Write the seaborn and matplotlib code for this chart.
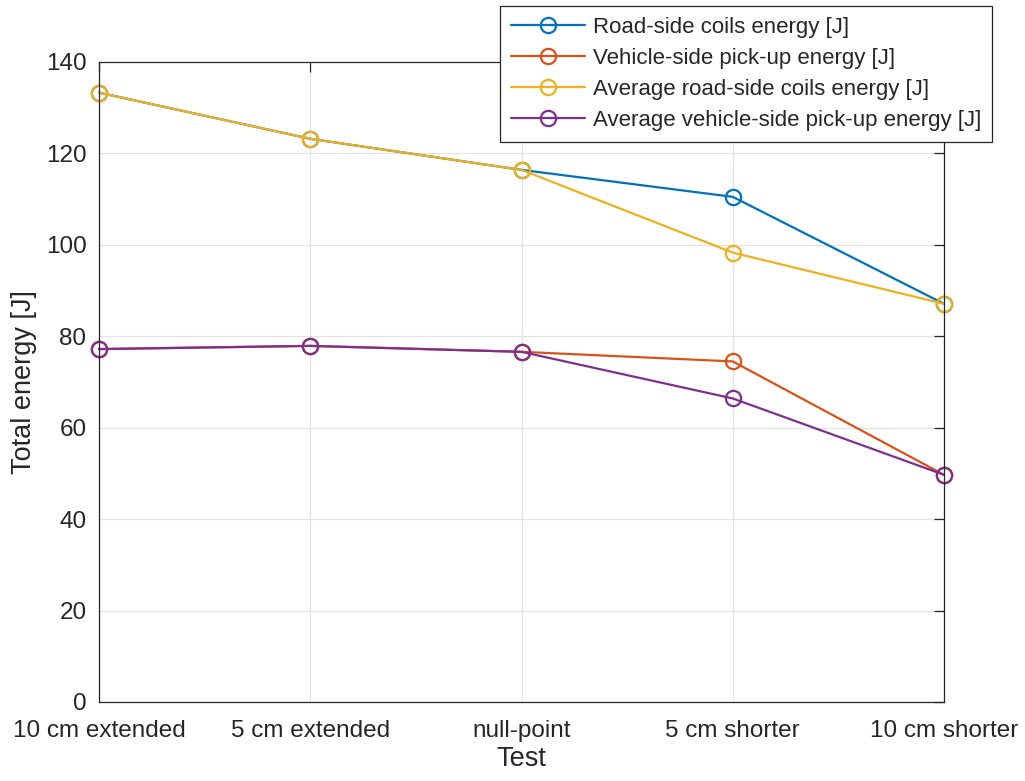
import matplotlib
matplotlib.use("Agg")
import matplotlib.pyplot as plt
import seaborn as sns
import pandas as pd

tests = ["10 cm extended", "5 cm extended", "null-point", "5 cm shorter", "10 cm shorter"]
road_side = [133.3, 123.2, 116.4, 110.5, 87.1]
vehicle_side = [77.2, 77.9, 76.6, 74.5, 49.7]
avg_road_side = [133.3, 123.2, 116.4, 98.3, 87.1]
avg_vehicle_side = [77.2, 77.9, 76.6, 66.4, 49.7]

series_names = [
    "Road-side coils energy [J]",
    "Vehicle-side pick-up energy [J]",
    "Average road-side coils energy [J]",
    "Average vehicle-side pick-up energy [J]",
]
series_values = [road_side, vehicle_side, avg_road_side, avg_vehicle_side]
colors = ["#0072BD", "#D95319", "#EDB120", "#7E2F8E"]

sns.set_theme(style="white")
plt.rcParams["font.family"] = ["Liberation Sans", "DejaVu Sans"]

fig = plt.figure(figsize=(10.25, 7.81), dpi=100)
ax = fig.add_axes([99 / 1025, 1 - 702 / 781, (944 - 99) / 1025, (702 - 62) / 781])

for name, vals, c in zip(series_names, series_values, colors):
    df = pd.DataFrame({"pos": range(len(tests)), "val": vals})
    sns.lineplot(data=df, x="pos", y="val", ax=ax, color=c, label=name,
                 marker="o", markersize=11, markerfacecolor="none",
                 markeredgecolor=c, markeredgewidth=1.6, linewidth=1.6,
                 sort=False, clip_on=False)

ax.set_xlim(0, len(tests) - 1)
ax.set_ylim(0, 140)
ax.set_xticks(range(len(tests)))
ax.set_xticklabels(tests)
ax.set_yticks(range(0, 141, 20))
ax.grid(True, color="#e3e3e3", linewidth=0.9)
ax.set_axisbelow(True)
for s in ax.spines.values():
    s.set_visible(True)
    s.set_color("#262626")
    s.set_linewidth(0.9)
ax.tick_params(axis="both", direction="in", length=7, width=0.9, color="#262626",
               labelsize=17.5, labelcolor="#262626", top=True, right=True, pad=9)
ax.tick_params(axis="x", pad=13)
ax.set_xlabel("Test", fontsize=19.5, color="#262626", labelpad=3)
ax.set_ylabel("Total energy [J]", fontsize=19.5, color="#262626", labelpad=6)

leg = ax.legend(loc="upper right", bbox_to_anchor=(992 / 1025, 1 - 6 / 781),
                bbox_transform=fig.transFigure, fontsize=16, frameon=True,
                fancybox=False, edgecolor="#262626", framealpha=1,
                handlelength=3.3, handletextpad=0.35, borderpad=0.5,
                labelspacing=0.45, borderaxespad=0)
leg.get_frame().set_linewidth(0.9)

fig.savefig("out.png", dpi=100)
